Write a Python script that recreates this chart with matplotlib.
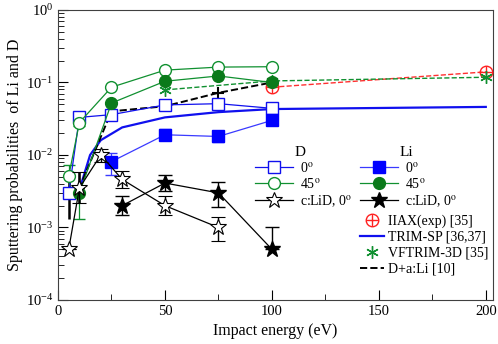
import numpy as np
import matplotlib.pyplot as plt
from matplotlib.lines import Line2D

plt.rcParams['font.family'] = ['Liberation Serif', 'DejaVu Serif']
plt.rcParams['mathtext.fontset'] = 'stix'

# D, 0 deg (open squares)
d0_e = [5, 10, 25, 50, 75, 100]
d0_y = [3.0e-3, 0.033, 0.036, 0.049, 0.051, 0.044]
# D, 45 deg (open circles)
d45_e = [5, 10, 25, 50, 75, 100]
d45_y = [5.1e-3, 0.028, 0.086, 0.148, 0.163, 0.165]
d45_lo = [1.6e-3, 0.003, 0, 0, 0, 0]
d45_hi = [2.1e-3, 0.002, 0, 0, 0, 0]
# D, c:LiD 0 deg (open stars)
dc_e = [5, 10, 20, 30, 50, 75]
dc_y = [5.0e-4, 3.5e-3, 1.0e-2, 4.6e-3, 2.0e-3, 1.0e-3]
dc_lo = [0, 1.3e-3, 2.0e-3, 1.1e-3, 5.0e-4, 3.5e-4]
dc_hi = [0, 2.3e-3, 2.0e-3, 1.4e-3, 7.0e-4, 4.0e-4]
# Li, 0 deg (filled squares)
l0_e = [25, 50, 75, 100]
l0_y = [8.1e-3, 0.019, 0.018, 0.030]
l0_lo = [2.8e-3, 3.0e-3, 3.0e-3, 4.0e-3]
l0_hi = [2.6e-3, 3.5e-3, 3.5e-3, 5.0e-3]
# Li, 45 deg (filled circles)
l45_e = [10, 25, 50, 75, 100]
l45_y = [3.0e-3, 0.052, 0.104, 0.123, 0.100]
l45_lo = [1.7e-3, 0, 0, 0, 0]
l45_hi = [0, 0, 0, 0, 0]
# Li, c:LiD 0 deg (filled stars)
lc_e = [30, 50, 75, 100]
lc_y = [2.0e-3, 4.1e-3, 3.0e-3, 5.0e-4]
lc_lo = [5.0e-4, 9.0e-4, 1.1e-3, 0]
lc_hi = [7.0e-4, 1.2e-3, 1.2e-3, 5.0e-4]
# IIAX(exp) [35]
iiax_e = [100, 200]
iiax_y = [0.086, 0.14]
# TRIM-SP [36,37]
trim_e = [10, 15, 20, 30, 50, 75, 100, 200]
trim_y = [3.3e-3, 1.0e-2, 0.016, 0.024, 0.033, 0.039, 0.043, 0.046]
# VFTRIM-3D [35]
vf_e = [50, 100, 200]
vf_y = [0.079, 0.105, 0.118]
# D+a:Li [10]
da_e = [5, 10, 25, 50, 75, 100]
da_y = [3.0e-3, 3.5e-3, 0.040, 0.047, 0.072, 0.100]
da_lo = [1.7e-3, 1.3e-3, 0, 0, 0, 0]
da_hi = [2.0e-3, 2.3e-3, 0, 0, 0, 0]

blue = '#1010ee'
lblue = '#3a3aff'
green = '#109030'
dgreen = '#0a7a1a'

fig = plt.figure(figsize=(4.98, 3.44), dpi=100)
ax = fig.add_axes([0.1165, 0.128, 0.874, 0.843])

ax.plot(trim_e, trim_y, '-', color=blue, lw=1.6, zorder=2)
ax.errorbar(da_e, da_y, yerr=[da_lo, da_hi], fmt='--', color='k', lw=1.4,
            marker='+', ms=8, mew=1.5, capsize=0, elinewidth=1.8, zorder=3)
ax.plot(iiax_e, iiax_y, '--', color='#ff3030', lw=1.0, marker='o', ms=9,
        mfc='none', mec='#ff2020', zorder=3)
ax.plot(iiax_e, iiax_y, '+', color='#ff2020', ms=9, mew=1.0, zorder=3)
ax.plot(vf_e, vf_y, '--', color=green, lw=1.0, marker=(6, 2, 0), ms=9,
        mew=1.0, zorder=3)

ax.errorbar(d0_e, d0_y, fmt='-', color=blue, lw=0.9, marker='s', ms=8,
            mfc='white', mec=blue, mew=1.0, zorder=4)
ax.errorbar(d45_e, d45_y, yerr=[d45_lo, d45_hi], fmt='-', color=green, lw=0.9,
            marker='o', ms=8.5, mfc='white', mec=green, mew=1.0,
            capsize=4, zorder=4)
ax.errorbar(l0_e, l0_y, yerr=[l0_lo, l0_hi], fmt='-', color=lblue, lw=0.9,
            marker='s', ms=8, mfc='#0000ff', mec='#0000ff', capsize=4,
            zorder=4)
ax.errorbar(l45_e, l45_y, yerr=[l45_lo, l45_hi], fmt='-', color=green, lw=0.9,
            marker='o', ms=8.5, mfc=dgreen, mec=dgreen, capsize=4, zorder=4)
ax.errorbar(dc_e, dc_y, yerr=[dc_lo, dc_hi], fmt='-', color='k', lw=0.9,
            marker='*', ms=12, mfc='white', mec='k', mew=0.8, capsize=5,
            elinewidth=1.0, zorder=5)
ax.errorbar(lc_e, lc_y, yerr=[lc_lo, lc_hi], fmt='-', color='k', lw=0.9,
            marker='*', ms=12, mfc='k', mec='k', capsize=5,
            elinewidth=1.0, zorder=5)

ax.set_yscale('log')
ax.set_xlim(0, 203.5)
ax.set_ylim(1e-4, 1)
ax.set_xticks([0, 50, 100, 150, 200])
ax.set_xticks([25, 75, 125, 175], minor=True)
ax.tick_params(which='both', direction='in', labelsize=10.5)
ax.tick_params(which='major', length=7)
ax.tick_params(which='minor', length=4)
for s in ax.spines.values():
    s.set_color('#404040')
ax.set_xlabel('Impact energy (eV)', fontsize=11.5, labelpad=4)
ax.set_ylabel('Sputtering probabilities  of Li and D', fontsize=11.5, labelpad=2)

deg = '$^{\\mathrm{o}}$'
h_d = [Line2D([], [], color=blue, lw=0.9, marker='s', ms=8, mfc='white', mec=blue),
       Line2D([], [], color=green, lw=0.9, marker='o', ms=8.5, mfc='white', mec=green),
       Line2D([], [], color='k', lw=0.9, marker='*', ms=12, mfc='white', mec='k', mew=0.8)]
h_l = [Line2D([], [], color=lblue, lw=0.9, marker='s', ms=8, mfc='#0000ff', mec='#0000ff'),
       Line2D([], [], color=green, lw=0.9, marker='o', ms=8.5, mfc=dgreen, mec=dgreen),
       Line2D([], [], color='k', lw=0.9, marker='*', ms=12, mfc='k', mec='k')]
labs = ['0' + deg, '45' + deg, 'c:LiD, 0' + deg]
h_o = [(Line2D([], [], ls='none', marker='o', ms=9, mfc='none', mec='#ff2020'),
        Line2D([], [], ls='none', marker='+', ms=9, color='#ff2020')),
       Line2D([], [], color=blue, lw=1.6),
       Line2D([], [], ls='none', color=green, marker=(6, 2, 0), ms=9),
       Line2D([], [], ls='--', color='k', lw=1.4)]
labs_o = ['IIAX(exp) [35]', 'TRIM-SP [36,37]', 'VFTRIM-3D [35]', 'D+a:Li [10]']

kw = dict(frameon=False, fontsize=10, borderpad=0, borderaxespad=0,
          loc='upper left')
leg1 = ax.legend(h_d, labs, bbox_to_anchor=(0.453, 0.48), handlelength=2.7,
                 handletextpad=0.5, labelspacing=0.15, **kw)
ax.add_artist(leg1)
leg2 = ax.legend(h_l, labs, bbox_to_anchor=(0.694, 0.48), handlelength=2.7,
                 handletextpad=0.5, labelspacing=0.15, **kw)
ax.add_artist(leg2)
ax.legend(h_o, labs_o, bbox_to_anchor=(0.694, 0.296), handlelength=1.7,
          handletextpad=0.3, labelspacing=0.22, **kw)
ax.text(0.557, 0.51, 'D', transform=ax.transAxes, fontsize=11, ha='center', va='center')
ax.text(0.80, 0.51, 'Li', transform=ax.transAxes, fontsize=11, ha='center', va='center')

fig.savefig('out.png', dpi=100)
